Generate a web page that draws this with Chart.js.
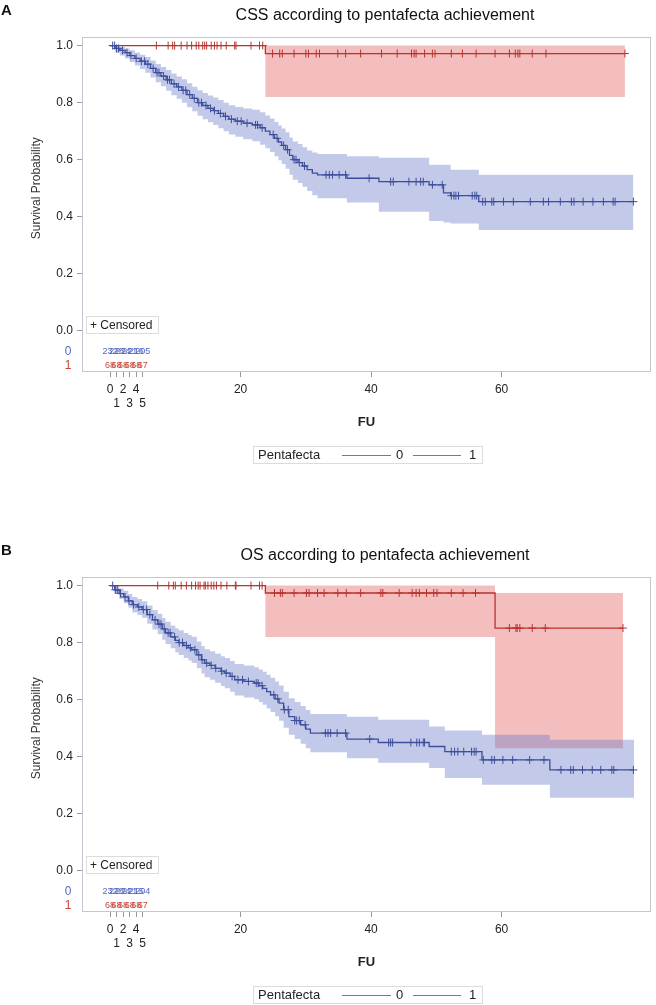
<!DOCTYPE html>
<html>
<head>
<meta charset="utf-8">
<script src="https://cdn.jsdelivr.net/npm/chart.js@4.4.1/dist/chart.umd.min.js"></script>
<style>
  html, body { margin: 0; padding: 0; background: #fff; width: 656px; height: 1005px; overflow: hidden; }
  .panel { position: absolute; left: 0; width: 656px; height: 540px; }
  #pA { top: 0; }
  #pB { top: 540px; }
</style>
</head>
<body>
<div class="panel" id="pA"><canvas id="cA" width="656" height="540"></canvas></div>
<div class="panel" id="pB"><canvas id="cB" width="656" height="540"></canvas></div>
<script>
// ---- data: panel A (CSS) ----
const aT0 = [0, 0.8, 1.5, 2.3, 3.0, 3.8, 4.6, 5.4, 6.2, 7.0, 7.8, 8.6, 9.4, 10.2, 11.0, 11.8, 12.6, 13.4, 14.2, 15.0, 15.8, 16.6, 17.4, 18.2, 19.2, 20.4, 21.8, 23.0, 23.8, 24.5, 25.2, 25.8, 26.3, 26.9, 27.5, 28.0, 28.8, 29.5, 30.2, 31.0, 31.8, 36.3, 41.2, 48.9, 51.1, 52.2, 56.5, 80.2];
const aS0 = [1.0, 0.99, 0.983, 0.975, 0.965, 0.955, 0.945, 0.935, 0.92, 0.905, 0.893, 0.88, 0.866, 0.855, 0.843, 0.828, 0.815, 0.80, 0.79, 0.78, 0.772, 0.762, 0.752, 0.742, 0.735, 0.728, 0.722, 0.712, 0.70, 0.688, 0.675, 0.662, 0.65, 0.635, 0.615, 0.60, 0.59, 0.578, 0.565, 0.553, 0.547, 0.535, 0.523, 0.512, 0.484, 0.474, 0.453, 0.453];
const aUp0 = [1.0, 1.0, 0.995, 0.99, 0.984, 0.976, 0.968, 0.96, 0.948, 0.935, 0.925, 0.914, 0.902, 0.892, 0.882, 0.868, 0.856, 0.843, 0.834, 0.825, 0.818, 0.809, 0.80, 0.791, 0.785, 0.779, 0.775, 0.766, 0.755, 0.744, 0.732, 0.72, 0.709, 0.696, 0.678, 0.664, 0.655, 0.644, 0.632, 0.625, 0.62, 0.612, 0.607, 0.582, 0.582, 0.565, 0.547, 0.547];
const aLo0 = [1.0, 0.975, 0.965, 0.955, 0.942, 0.93, 0.918, 0.905, 0.888, 0.871, 0.857, 0.842, 0.826, 0.814, 0.80, 0.784, 0.77, 0.754, 0.742, 0.731, 0.722, 0.71, 0.70, 0.688, 0.68, 0.672, 0.665, 0.652, 0.64, 0.627, 0.612, 0.598, 0.585, 0.568, 0.547, 0.53, 0.518, 0.505, 0.49, 0.475, 0.465, 0.45, 0.418, 0.385, 0.38, 0.376, 0.354, 0.354];
const aC0 = [0.4, 0.7, 1.0, 1.3, 1.9, 2.6, 3.2, 4.0, 4.8, 5.3, 5.8, 6.6, 7.2, 7.5, 8.2, 8.8, 9.1, 9.8, 10.5, 11.2, 11.6, 12.2, 12.9, 13.6, 14.0, 14.7, 15.4, 16.0, 16.9, 17.7, 18.6, 19.5, 20.1, 21.0, 22.3, 22.6, 23.3, 25.0, 25.6, 26.6, 27.2, 28.2, 28.5, 29.0, 29.8, 33.1, 33.6, 34.1, 35.1, 36.1, 39.7, 43.0, 43.4, 45.8, 46.9, 47.6, 48.0, 49.4, 50.9, 52.3, 52.7, 53.0, 53.4, 55.5, 55.9, 56.2, 57.1, 57.5, 58.5, 58.8, 60.3, 61.8, 64.4, 66.4, 67.2, 69.0, 70.7, 71.1, 72.5, 74.0, 75.6, 77.1, 77.4, 80.2];

const aT1 = [0, 23.8, 78.9];
const aS1 = [1.0, 0.972, 0.972];
const aUp1 = [1.0, 1.0, 1.0];
const aLo1 = [1.0, 0.82, 0.82];
const aC1 = [7.1, 8.9, 9.6, 9.9, 10.9, 11.8, 12.5, 13.2, 13.6, 14.2, 14.5, 14.8, 15.5, 16.0, 16.4, 17.0, 17.8, 19.1, 19.3, 21.6, 22.9, 23.4, 24.9, 26.0, 26.4, 28.2, 30.0, 30.4, 31.6, 32.1, 34.9, 36.1, 38.4, 41.6, 44.0, 46.2, 46.6, 46.9, 48.2, 49.4, 49.8, 52.3, 54.0, 56.1, 59.0, 61.2, 62.1, 62.5, 62.8, 64.7, 66.8, 78.9];

// ---- data: panel B (OS) ----
const bT0 = [0, 0.7, 1.4, 2.1, 2.8, 3.4, 4.2, 4.9, 5.7, 6.5, 7.3, 8.0, 8.5, 9.3, 10.0, 10.5, 11.3, 12.0, 12.5, 13.3, 14.0, 14.5, 15.3, 16.1, 17.0, 17.6, 18.4, 19.1, 20.5, 22.1, 22.8, 23.4, 24.0, 24.6, 25.3, 25.9, 26.6, 27.4, 28.3, 29.2, 30.0, 30.7, 36.3, 41.1, 48.9, 51.3, 57.0, 67.4, 80.3];
const bS0 = [1.0, 0.985, 0.972, 0.96, 0.946, 0.933, 0.925, 0.916, 0.898, 0.88, 0.865, 0.848, 0.834, 0.82, 0.808, 0.80, 0.79, 0.782, 0.775, 0.757, 0.74, 0.728, 0.72, 0.71, 0.70, 0.693, 0.682, 0.67, 0.664, 0.658, 0.649, 0.64, 0.628, 0.617, 0.603, 0.588, 0.565, 0.541, 0.527, 0.512, 0.497, 0.483, 0.462, 0.45, 0.436, 0.418, 0.389, 0.354, 0.354];
const bUp0 = [1.0, 1.0, 0.99, 0.982, 0.97, 0.96, 0.953, 0.945, 0.93, 0.914, 0.901, 0.886, 0.873, 0.86, 0.85, 0.843, 0.834, 0.827, 0.821, 0.804, 0.788, 0.777, 0.77, 0.761, 0.752, 0.746, 0.736, 0.725, 0.72, 0.714, 0.706, 0.698, 0.687, 0.677, 0.664, 0.65, 0.628, 0.605, 0.592, 0.578, 0.564, 0.55, 0.54, 0.53, 0.506, 0.492, 0.477, 0.46, 0.46];
const bLo0 = [1.0, 0.97, 0.954, 0.938, 0.922, 0.906, 0.897, 0.887, 0.866, 0.846, 0.829, 0.81, 0.795, 0.78, 0.766, 0.757, 0.746, 0.737, 0.729, 0.71, 0.692, 0.679, 0.67, 0.659, 0.648, 0.64, 0.628, 0.615, 0.608, 0.602, 0.592, 0.582, 0.569, 0.557, 0.542, 0.526, 0.502, 0.477, 0.462, 0.446, 0.43, 0.416, 0.395, 0.379, 0.361, 0.326, 0.302, 0.256, 0.256];
const bC0 = [0.4, 0.8, 1.1, 1.6, 2.3, 2.9, 3.6, 4.4, 5.1, 5.6, 6.1, 6.9, 7.5, 7.8, 8.3, 8.9, 9.2, 9.9, 10.6, 11.1, 11.7, 12.3, 13.0, 13.6, 14.1, 14.8, 15.5, 16.2, 17.1, 17.8, 18.7, 19.6, 20.3, 21.2, 22.4, 22.7, 23.3, 25.1, 25.7, 26.7, 27.3, 28.3, 28.6, 29.0, 29.9, 33.0, 33.4, 33.8, 34.8, 36.1, 39.8, 42.7, 43.0, 43.3, 46.1, 47.0, 47.4, 48.0, 48.2, 52.3, 52.8, 53.3, 54.2, 55.4, 55.8, 56.1, 57.2, 58.5, 58.9, 60.2, 61.7, 64.3, 66.5, 69.1, 70.6, 71.0, 72.4, 73.9, 75.2, 76.9, 77.2, 80.2];

const bT1 = [0, 23.8, 59.0, 78.6];
const bS1 = [1.0, 0.974, 0.851, 0.851];
const bUp1 = [1.0, 1.0, 0.974, 0.974];
const bLo1 = [1.0, 0.82, 0.43, 0.43];
const bC1 = [7.3, 9.0, 9.7, 10.0, 10.9, 11.7, 12.5, 13.1, 13.5, 13.8, 14.4, 14.6, 15.0, 15.5, 15.9, 16.3, 17.0, 17.9, 19.2, 19.3, 21.6, 22.9, 23.3, 25.2, 26.1, 26.4, 28.2, 30.1, 30.5, 31.8, 32.8, 34.9, 36.2, 38.4, 41.5, 41.8, 44.3, 46.3, 46.9, 47.4, 48.5, 49.6, 50.1, 52.3, 54.1, 56.0, 61.2, 62.2, 62.4, 62.8, 64.7, 66.7, 78.6];

// numbers at risk
const riskT = [0, 1, 2, 3, 4, 5];
const aRisk0 = [232, 228, 224, 221, 216, 205];
const aRisk1 = [68, 68, 68, 68, 68, 67];
const bRisk0 = [232, 228, 224, 221, 215, 204];
const bRisk1 = [68, 68, 68, 68, 68, 67];

const xTicks = [0, 1, 2, 3, 4, 5, 20, 40, 60];
const yTicks = [0, 0.2, 0.4, 0.6, 0.8, 1.0];

const FONT = '"Liberation Sans", Arial, sans-serif';
const BLUE = '#3d4f9c', RED = '#b8352f';
const BLUE_BAND = 'rgba(105,122,200,0.4)', RED_BAND = 'rgba(232,110,110,0.45)';

Chart.defaults.font.family = FONT;

function survAt(T, S, t) {
  let s = S[0];
  for (let i = 0; i < T.length; i++) if (T[i] <= t) s = S[i];
  return s;
}

function kmSets(T, S, Lo, Up, C, line, band) {
  const pts = V => T.map((t, i) => ({ x: t, y: V[i] }));
  const hidden = 'rgba(0,0,0,0)';
  return [
    { data: pts(Up), borderColor: hidden, borderWidth: 0, pointRadius: 0, fill: false, stepped: 'before', order: 5 },
    { data: pts(Lo), borderColor: hidden, borderWidth: 0, pointRadius: 0, fill: '-1', backgroundColor: band, stepped: 'before', order: 5 },
    { data: pts(S), borderColor: line, borderWidth: 1.3, pointRadius: 0, fill: false, stepped: 'before', order: 2 },
    { data: C.map(t => ({ x: t, y: survAt(T, S, t) })), showLine: false, pointStyle: 'cross',
      pointRadius: 4, borderColor: line, borderWidth: 1, order: 1 }
  ];
}

function decor(letter, title, risk0, risk1) {
  return {
    id: 'decor',
    afterDraw(chart) {
      const { ctx, chartArea: a, scales: { x, y } } = chart;
      ctx.save();
      // frame
      ctx.strokeStyle = '#c3c8d0';
      ctx.lineWidth = 1;
      ctx.strokeRect(a.left + 0.5, a.top + 0.5, a.right - a.left - 1, a.bottom - a.top - 1);

      ctx.textBaseline = 'middle';
      ctx.fillStyle = '#111';
      ctx.textAlign = 'left';
      ctx.font = 'bold 15px ' + FONT;
      ctx.fillText(letter, 1, 11);
      ctx.textAlign = 'center';
      ctx.font = '16px ' + FONT;
      ctx.fillText(title, 385, 16);

      // y axis title, centred on 0..1
      ctx.save();
      ctx.translate(37, (y.getPixelForValue(0) + y.getPixelForValue(1)) / 2);
      ctx.rotate(-Math.PI / 2);
      ctx.font = '12px ' + FONT;
      ctx.fillStyle = '#333';
      ctx.fillText('Survival Probability', 0, 0);
      ctx.restore();

      // censored key
      ctx.strokeStyle = '#dcdcdc';
      ctx.strokeRect(86.5, a.bottom - 55.5, 72, 17);
      ctx.textAlign = 'left';
      ctx.fillStyle = '#222';
      ctx.font = '12px ' + FONT;
      ctx.fillText('+ Censored', 90, a.bottom - 46.5);

      // numbers at risk
      const r0 = a.bottom - 20, r1 = a.bottom - 6;
      ctx.textAlign = 'center';
      ctx.font = '12px ' + FONT;
      ctx.fillStyle = '#5468c0';
      ctx.fillText('0', 68, r0);
      ctx.fillStyle = '#c9463c';
      ctx.fillText('1', 68, r1);
      ctx.font = '9px ' + FONT;
      riskT.forEach((t, i) => {
        ctx.fillStyle = '#5468c0';
        ctx.fillText(String(risk0[i]), x.getPixelForValue(t), r0);
        ctx.fillStyle = '#c9463c';
        ctx.fillText(String(risk1[i]), x.getPixelForValue(t), r1);
      });

      // group legend
      const ly = a.bottom + 83;
      ctx.strokeStyle = '#dcdcdc';
      ctx.strokeRect(253.5, ly - 8.5, 229, 17);
      ctx.textAlign = 'left';
      ctx.fillStyle = '#222';
      ctx.font = '13px ' + FONT;
      ctx.fillText('Pentafecta', 258, ly);
      ctx.lineWidth = 1.2;
      ctx.strokeStyle = '#6677bb';
      ctx.beginPath(); ctx.moveTo(342, ly + 0.5); ctx.lineTo(391, ly + 0.5); ctx.stroke();
      ctx.fillText('0', 396, ly);
      ctx.strokeStyle = '#cc5a52';
      ctx.beginPath(); ctx.moveTo(413, ly + 0.5); ctx.lineTo(461, ly + 0.5); ctx.stroke();
      ctx.fillText('1', 469, ly);
      ctx.restore();
    }
  };
}

function makeChart(id, sets0, sets1, letter, title, risk0, risk1) {
  return new Chart(document.getElementById(id), {
    type: 'line',
    data: { datasets: [...sets0, ...sets1] },
    options: {
      responsive: false,
      animation: false,
      events: [],
      layout: { padding: { top: 37, right: 3, bottom: 110, left: 0 } },
      plugins: { legend: { display: false }, tooltip: { enabled: false } },
      scales: {
        x: {
          type: 'linear', min: -4.3, max: 82.9,
          afterBuildTicks: ax => { ax.ticks = xTicks.map(v => ({ value: v })); },
          afterFit: ax => { ax.height = 58; },
          ticks: {
            autoSkip: false, maxRotation: 0, minRotation: 0, padding: 5,
            color: '#222', font: { size: 12 },
            callback: v => (v % 2 === 1 && v < 6) ? ['', String(v)] : String(v)
          },
          grid: { drawOnChartArea: false, drawTicks: true, tickLength: 5, color: '#999' },
          border: { display: false },
          title: { display: true, text: 'FU', color: '#222', font: { size: 13, weight: 'bold' }, padding: 0 }
        },
        y: {
          type: 'linear', min: -0.144, max: 1.03,
          afterBuildTicks: ax => { ax.ticks = yTicks.map(v => ({ value: v })); },
          afterFit: ax => { ax.width = 82; },
          ticks: { padding: 4, color: '#222', font: { size: 12 }, callback: v => v.toFixed(1) },
          grid: { drawOnChartArea: false, drawTicks: true, tickLength: 5, color: '#999' },
          border: { display: false }
        }
      }
    },
    plugins: [decor(letter, title, risk0, risk1)]
  });
}

makeChart('cA',
  kmSets(aT0, aS0, aLo0, aUp0, aC0, BLUE, BLUE_BAND),
  kmSets(aT1, aS1, aLo1, aUp1, aC1, RED, RED_BAND),
  'A', 'CSS according to pentafecta achievement', aRisk0, aRisk1);

makeChart('cB',
  kmSets(bT0, bS0, bLo0, bUp0, bC0, BLUE, BLUE_BAND),
  kmSets(bT1, bS1, bLo1, bUp1, bC1, RED, RED_BAND),
  'B', 'OS according to pentafecta achievement', bRisk0, bRisk1);
</script>
</body>
</html>
